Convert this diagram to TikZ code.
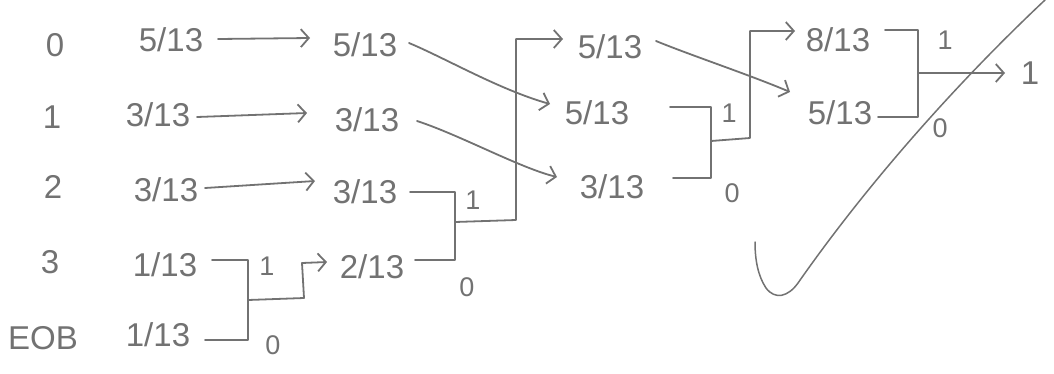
\documentclass[tikz,border=0pt]{standalone}
\usepackage{fontspec}
\setmainfont{Liberation Sans}
\usetikzlibrary{arrows.meta,calc}
\definecolor{pencil}{HTML}{727272}
\begin{document}
\begin{tikzpicture}[x=1pt,y=-1pt,
  ink/.style={draw=pencil,line width=1.8pt,line cap=round,line join=round},
  tip/.style={-{Straight Barb[length=8pt,width=18pt]}},
  val/.style={text=pencil,inner sep=0pt,font=\fontsize{33}{33}\selectfont},
  bit/.style={text=pencil,inner sep=0pt,font=\fontsize{27}{27}\selectfont}]
\useasboundingbox (0,0) rectangle (1054,373);

% symbols
\node[val] (s0) at (55,45)  {0};
\node[val] (s1) at (52,117) {1};
\node[val] (s2) at (53,187) {2};
\node[val] (s3) at (50,262) {3};
\node[val] (s4) at (43,338) {EOB};

% initial probabilities
\node[val] (a0) at (171,40)  {5/13};
\node[val] (a1) at (158,115) {3/13};
\node[val] (a2) at (166,190) {3/13};
\node[val] (a3) at (165,265) {1/13};
\node[val] (a4) at (158,335) {1/13};

% after the first merge
\node[val] (b0) at (365,45)  {5/13};
\node[val] (b1) at (367,120) {3/13};
\node[val] (b2) at (365,192) {3/13};
\node[val] (b3) at (372,267) {2/13};

% after the second merge
\node[val] (c0) at (610,47)  {5/13};
\node[val] (c1) at (597,113) {5/13};
\node[val] (c2) at (612,187) {3/13};

% after the third merge
\node[val] (d0) at (838,40)  {8/13};
\node[val] (d1) at (840,113) {5/13};

% root
\node[val] (r) at (1030,73) {1};

% carried-over values
\draw[ink,tip] ($(a0)+(47,-1)$) -- ($(b0)+(-55,-7)$);
\draw[ink,tip] ($(a1)+(39,2)$)  -- ($(b1)+(-60,-7)$);
\draw[ink,tip] ($(a2)+(39,-2)$) -- ($(b2)+(-50,-11)$);

\draw[ink,tip] ($(b0)+(44,-2)$) .. controls (445,58) and (500,90) .. ($(c1)+(-47,-9)$);
\draw[ink,tip] ($(b1)+(50,1)$)  .. controls (460,135) and (520,168) .. ($(c2)+(-55,-10)$);
\draw[ink,tip] ($(c0)+(46,-6)$) .. controls (690,55) and (750,75) .. ($(d1)+(-50,-21)$);

% merge 1: 1/13 + 1/13
\coordinate (j1) at (248,300);
\draw[ink] ($(a3)+(47,-5)$) -| (j1) |- ($(a4)+(47,5)$);
\draw[ink,tip] (j1) -- ++(56,-2) -- ++(-2,-35) -- ($(b3)+(-45,-5)$);
\node[bit] (u1) at (267,266) {1};
\node[bit] (z1) at (273,345) {0};

% merge 2: 3/13 + 2/13
\coordinate (j2) at (455,222);
\draw[ink] ($(b2)+(45,0)$) -| (j2) |- ($(b3)+(43,-7)$);
\draw[ink,tip] (j2) -- ++(61,-2) |- ($(c0)+(-47,-8)$);
\node[bit] (u2) at (473,200) {1};
\node[bit] (z2) at (467,287) {0};

% merge 3: 5/13 + 3/13
\coordinate (j3) at (711,141);
\draw[ink] ($(c1)+(73,-6)$) -| (j3) |- ($(c2)+(61,-9)$);
\draw[ink,tip] (j3) -- ++(39,-3) |- ($(d0)+(-43,-9)$);
\node[bit] (u3) at (729,113) {1};
\node[bit] (z3) at (732,193) {0};

% merge 4: 8/13 + 5/13
\coordinate (j4) at (918,73);
\draw[ink] ($(d0)+(47,-10)$) -| (j4) |- ($(d1)+(38,4)$);
\draw[ink,tip] (j4) -- ($(r)+(-25,0)$);
\node[bit] (u4) at (945,40)  {1};
\node[bit] (z4) at (940,128) {0};

% check mark
\draw[ink,line width=1.5pt] (1045,0) .. controls (960,80) and (870,180) .. (798,283)
  .. controls (788,297) and (775,300) .. (766,288)
  .. controls (758,276) and (755,260) .. (755,242);
\end{tikzpicture}
\end{document}
